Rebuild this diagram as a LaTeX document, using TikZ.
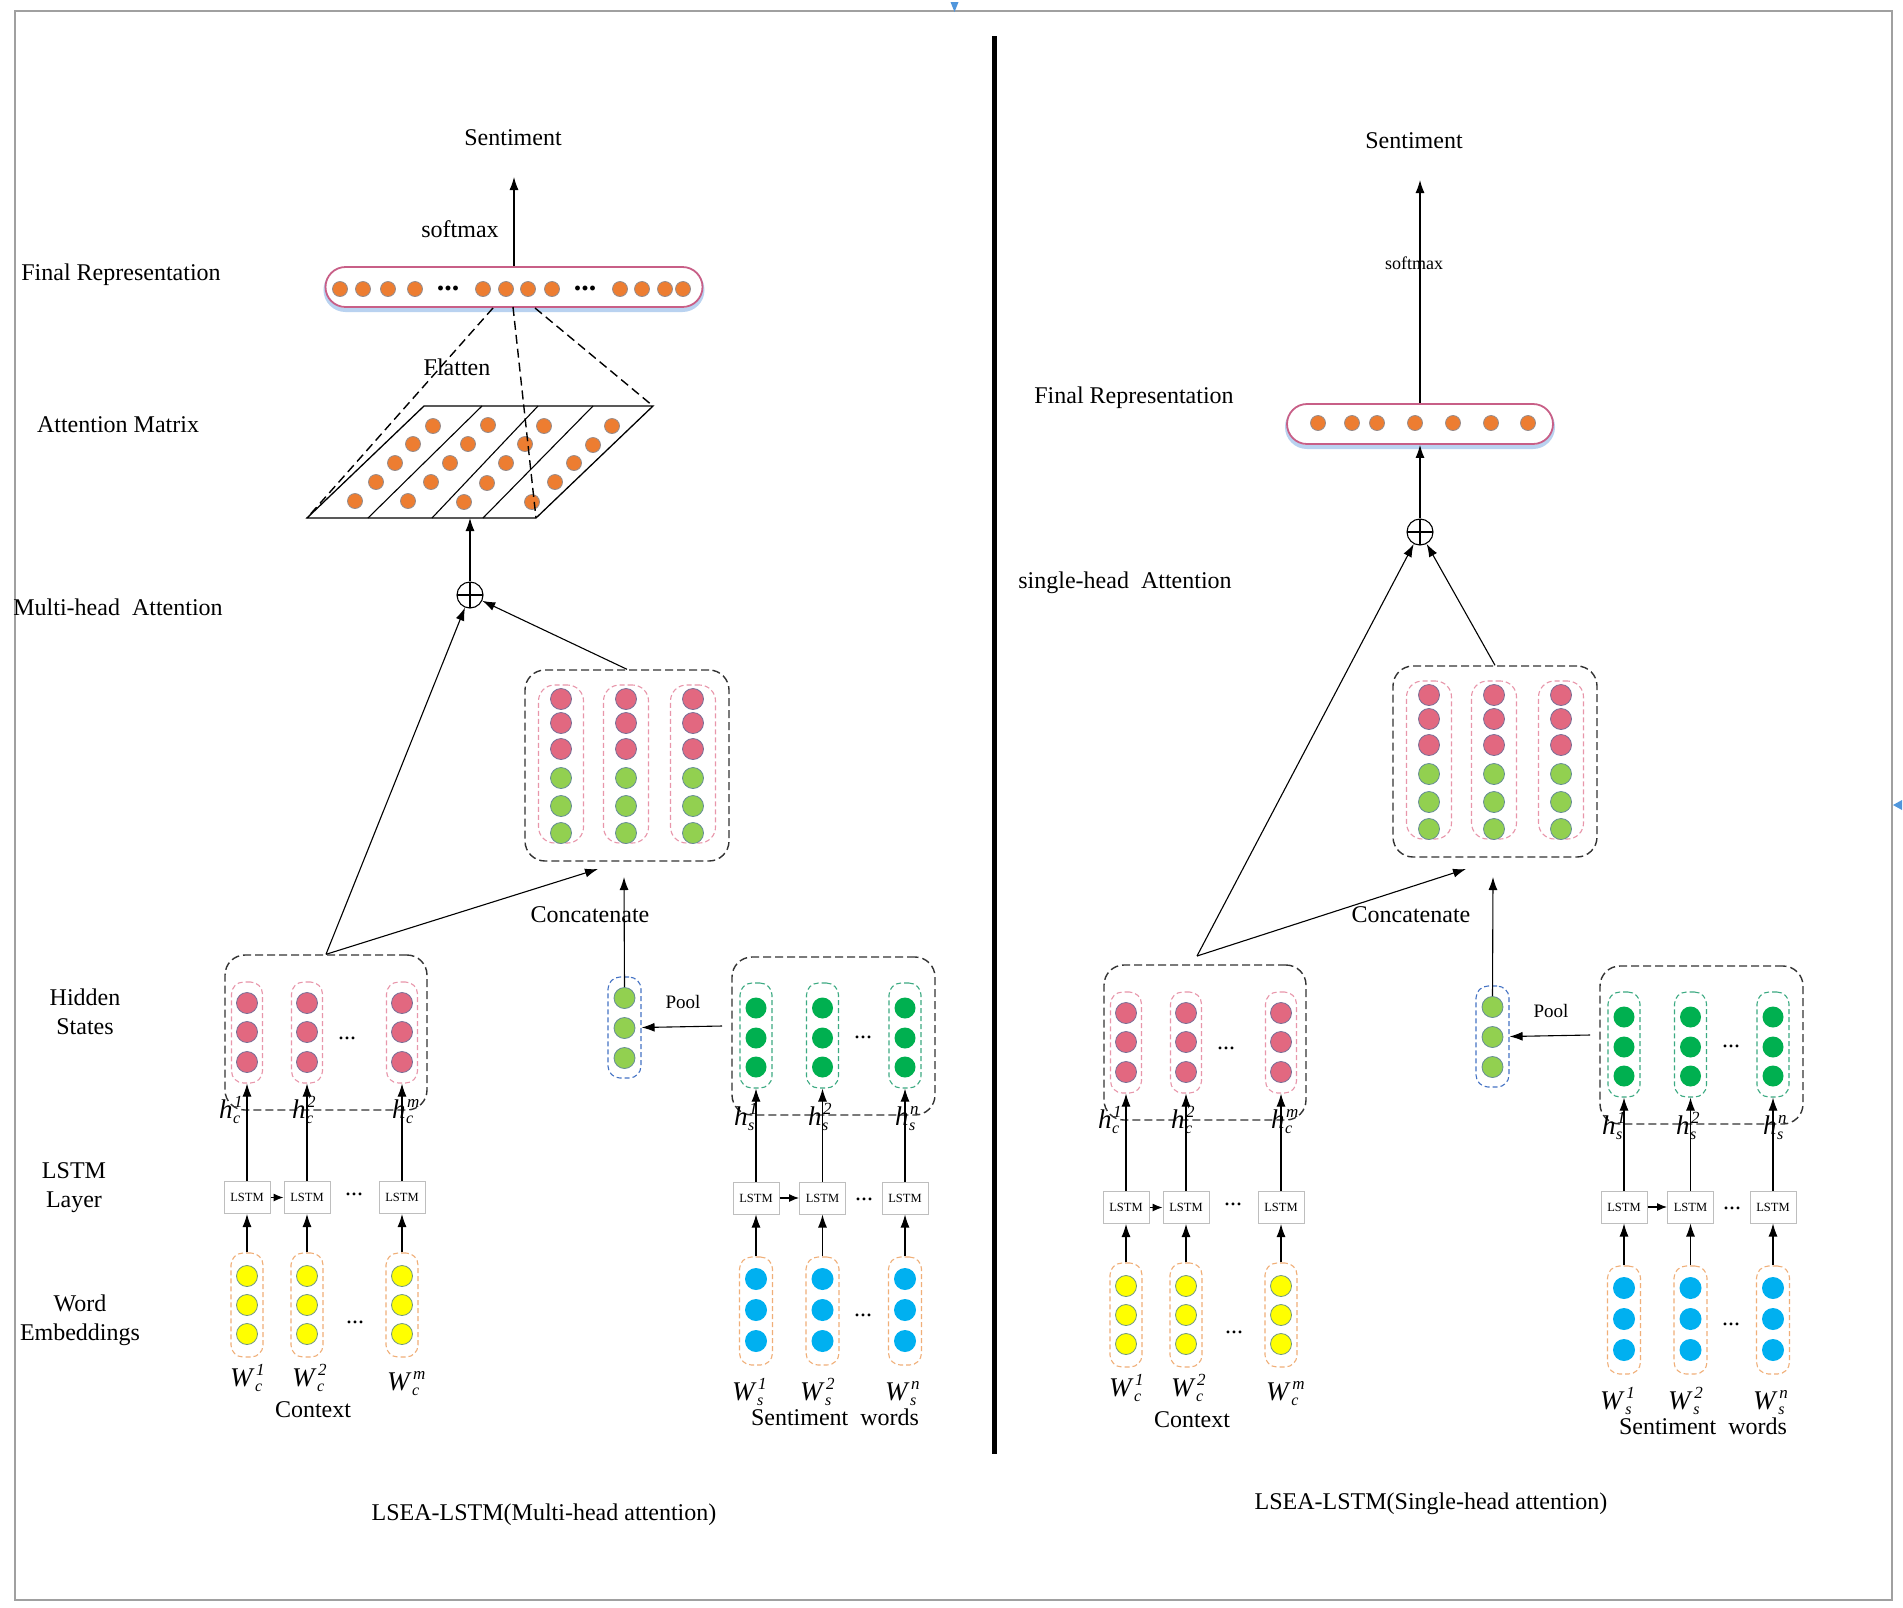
\documentclass[tikz,border=0pt]{standalone}
\usepackage{fontspec}
\setmainfont{Liberation Serif}
\usetikzlibrary{arrows.meta}
\definecolor{pinkdot}{RGB}{226,104,128}
\definecolor{pinkbd}{RGB}{120,110,150}
\definecolor{orgdot}{RGB}{237,125,49}
\definecolor{orgbd}{RGB}{150,140,140}
\definecolor{yeldot}{RGB}{255,255,0}
\definecolor{yelbd}{RGB}{110,150,130}
\definecolor{bluedot}{RGB}{0,176,240}
\definecolor{dgdot}{RGB}{0,176,80}
\definecolor{lgdot}{RGB}{146,208,80}
\definecolor{lgbd}{RGB}{100,140,150}
\definecolor{pinkdash}{RGB}{232,150,170}
\definecolor{orgdash}{RGB}{240,175,120}
\definecolor{grndash}{RGB}{60,170,130}
\definecolor{bludash}{RGB}{68,114,196}
\definecolor{pillbd}{RGB}{200,95,135}
\definecolor{glowc}{RGB}{185,210,240}
\definecolor{framec}{RGB}{160,160,160}
\definecolor{lstmbd}{RGB}{190,190,190}
\definecolor{markc}{RGB}{80,150,220}
\tikzset{
  dotnode/.style={circle, inner sep=0pt, minimum size=#1, line width=0.8pt},
  pdot/.style={dotnode=21, fill=pinkdot, draw=pinkbd},
  odot/.style={dotnode=15, fill=orgdot, draw=orgbd},
  ydot/.style={dotnode=21, fill=yeldot, draw=yelbd},
  bdot/.style={dotnode=22, fill=bluedot},
  gdot/.style={dotnode=21, fill=dgdot},
  lgdot/.style={dotnode=21, fill=lgdot, draw=lgbd},
  colbox/.style={draw=#1, dash pattern=on 5pt off 3pt, rounded corners=12pt, line width=1.1pt, inner sep=0pt},
  outbox/.style={draw=black!80, dash pattern=on 8pt off 4pt, rounded corners=20pt, line width=1.4pt, inner sep=0pt},
  lstmbox/.style={draw=lstmbd, fill=white, minimum width=46pt, minimum height=32pt, inner sep=0pt, line width=1pt, font=\fontsize{12.5}{14}\selectfont},
  lab/.style={font=\fontsize{24}{29}\selectfont, inner sep=0pt},
  hlab/.style={font=\fontsize{27}{30}\selectfont, inner sep=0pt},
  arr/.style={-{Latex[length=13pt,width=9pt]}, line width=1.1pt},
  arrs/.style={-{Latex[length=10pt,width=8pt]}, line width=1.1pt},
  pill/.style={draw=pillbd, fill=white, line width=1.8pt, rounded corners=20pt, inner sep=0pt},
  glow/.style={draw=glowc, line width=4pt, rounded corners=20pt, inner sep=0pt},
  oplus/.style={circle, draw, line width=1.1pt, minimum size=26pt, inner sep=0pt, fill=white,
    path picture={\draw[line width=1.1pt] (path picture bounding box.north) -- (path picture bounding box.south) (path picture bounding box.west) -- (path picture bounding box.east);}},
  mdash/.style={dash pattern=on 9pt off 5pt, line width=1.4pt},
}
\newcommand{\supsub}[3]{\textit{#1}\rlap{\kern0.5pt\raisebox{-5pt}{\fontsize{16}{16}\selectfont\textit{#2}}}\kern1.5pt\raisebox{11pt}{\fontsize{17}{17}\selectfont\textit{#3}}}

% context part (left-panel coordinates)
\newcommand{\ctxblock}[1]{%
  \node[outbox, minimum width=202pt, minimum height=155pt] (#1chb) at (326,1032.5) {};
  \foreach \x [count=\i] in {247,307,402}{%
    \node[colbox=pinkdash, minimum width=31pt, minimum height=101pt] (#1chc\i) at (\x,1032.5) {};
    \foreach \y [count=\j] in {1003,1032,1062} \node[pdot] (#1chc\i d\j) at (\x,\y) {};
    \node[lstmbox] (#1cL\i) at (\x,1197.5) {LSTM};
    \node[colbox=orgdash, minimum width=32pt, minimum height=104pt] (#1cwc\i) at (\x,1305) {};
    \foreach \y [count=\j] in {1276,1305,1334} \node[ydot] (#1cwc\i d\j) at (\x,\y) {};
    \draw[arr] (#1cwc\i.north) -- (#1cL\i.south);
    \draw[arr] (#1cL\i.north) -- (#1chc\i.south);
  }
  \draw[arrs] (#1cL1.east) -- (#1cL2.west);
  \node[lab] (#1chdots) at (347,1038) {...};
  \node[lab] (#1cldots) at (354,1194) {...};
  \node[lab] (#1cwdots) at (355,1322) {...};
  \node[hlab, anchor=base west] (#1ch1) at (219,1118) {\supsub{h}{c}{1}};
  \node[hlab, anchor=base west] (#1ch2) at (292,1118) {\supsub{h}{c}{2}};
  \node[hlab, anchor=base west] (#1ch3) at (392,1118) {\supsub{h}{c}{m}};
  \node[hlab, anchor=base west] (#1cw1) at (230,1386) {\supsub{W}{c}{1}};
  \node[hlab, anchor=base west] (#1cw2) at (292,1386) {\supsub{W}{c}{2}};
  \node[hlab, anchor=base west] (#1cw3) at (387,1390) {\supsub{W}{c}{m}};
  \node[lab] (#1ctx) at (313,1410) {Context};
}
% sentiment-word part (left-panel coordinates)
\newcommand{\sntblock}[1]{%
  \node[outbox, minimum width=203pt, minimum height=158pt] (#1shb) at (833.5,1036) {};
  \foreach \x [count=\i] in {756,822.5,905}{%
    \node[colbox=grndash, minimum width=32pt, minimum height=105pt] (#1shc\i) at (\x,1035.5) {};
    \foreach \y [count=\j] in {1008,1038,1067} \node[gdot] (#1shc\i d\j) at (\x,\y) {};
    \node[lstmbox] (#1sL\i) at (\x,1198) {LSTM};
    \node[colbox=orgdash, minimum width=33pt, minimum height=108pt] (#1swc\i) at (\x,1311) {};
    \foreach \y [count=\j] in {1279,1310,1341} \node[bdot] (#1swc\i d\j) at (\x,\y) {};
    \draw[arr] (#1swc\i.north) -- (#1sL\i.south);
    \draw[arr] (#1sL\i.north) -- (#1shc\i.south);
  }
  \draw[arrs] (#1sL1.east) -- (#1sL2.west);
  \node[lab] (#1shdots) at (863,1037) {...};
  \node[lab] (#1sldots) at (864,1199) {...};
  \node[lab] (#1swdots) at (863,1315) {...};
  \node[colbox=bludash, minimum width=33pt, minimum height=101pt] (#1pc) at (624.5,1027.5) {};
  \foreach \y [count=\j] in {998,1028,1058} \node[lgdot] (#1pcd\j) at (624.5,\y) {};
  \node[font=\fontsize{19}{20}\selectfont, inner sep=0pt] (#1pool) at (683,1002) {Pool};
  \coordinate (#1psrc) at (722,1026);
  \draw[arr] (#1psrc) -- (#1pc.east);
  \node[hlab, anchor=base west] (#1sh1) at (734,1125) {\supsub{h}{s}{1}};
  \node[hlab, anchor=base west] (#1sh2) at (808,1125) {\supsub{h}{s}{2}};
  \node[hlab, anchor=base west] (#1sh3) at (895,1125) {\supsub{h}{s}{n}};
  \node[hlab, anchor=base west] (#1sw1) at (732,1400) {\supsub{W}{s}{1}};
  \node[hlab, anchor=base west] (#1sw2) at (800,1400) {\supsub{W}{s}{2}};
  \node[hlab, anchor=base west] (#1sw3) at (885,1400) {\supsub{W}{s}{n}};
  \node[lab] (#1swords) at (835,1417) {Sentiment\ \ words};
}
% concatenation part (left-panel coordinates)
\newcommand{\catblock}[1]{%
  \node[outbox, minimum width=204pt, minimum height=191pt] (#1cb) at (627,765.5) {};
  \foreach \x [count=\i] in {561,626,693}{%
    \node[colbox=pinkdash, rounded corners=16pt, minimum width=45pt, minimum height=158pt] (#1cc\i) at (\x,764) {};
    \foreach \y [count=\j] in {699,723,749} \node[pdot] (#1cc\i p\j) at (\x,\y) {};
    \foreach \y [count=\j] in {778,806,833} \node[lgdot] (#1cc\i g\j) at (\x,\y) {};
  }
}

\begin{document}
\begin{tikzpicture}[x=1pt,y=-1pt]
\useasboundingbox (0,0) rectangle (1903,1607);
\fill[white] (0,0) rectangle (1903,1607);
% frame and divider
\draw[framec, line width=2pt] (14.6,11) rectangle (1892,1600);
\fill[markc] (950.5,2) -- (958.5,2) -- (954.5,12) -- cycle;
\fill[markc] (1902,800) -- (1902,810) -- (1893,805) -- cycle;
\draw[line width=5pt] (994,36) -- (994,1454);

% ================= LEFT PANEL =================
\node[lab] (sent1) at (513,138) {Sentiment};
\node[lab] (smax1) at (460,229) {softmax};
\node[lab] (frl1) at (121,275) {Final Representation};
\node[lab] (aml1) at (118,425) {Attention Matrix};
\node[lab] (mha1) at (118,607) {Multi-head\ \ Attention};
\node[lab, align=center] (hsl1) at (85,1012) {Hidden\\States};
\node[lab, align=center] (lsl1) at (74,1188) {LSTM\\Layer};
\node[lab, align=center] (wel1) at (80,1320) {Word\\Embeddings};
\node[lab] (cap1) at (544,1515) {LSEA-LSTM(Multi-head attention)};

% final representation
\node[glow, minimum width=377pt, minimum height=40pt] (fr1g) at (514,290) {};
\node[pill, minimum width=377pt, minimum height=40pt] (fr1) at (514,287) {};
\foreach \x [count=\i] in {340,363,388,415,483,506,528,552,620,642,665,683}
  \node[odot] (fr1d\i) at (\x,289) {};
\node[font=\fontsize{30}{30}\selectfont\bfseries, inner sep=0pt] (fr1e1) at (448,288) {...};
\node[font=\fontsize{30}{30}\selectfont\bfseries, inner sep=0pt] (fr1e2) at (585,288) {...};
\coordinate (s1tip) at (514,177);
\draw[arr] (fr1.north) -- (s1tip);

% attention matrix
\coordinate (pmBL) at (307,518);
\coordinate (pmBR) at (536,518);
\coordinate (pmTR) at (653,406);
\coordinate (pmTL) at (424,406);
\draw[line width=1.3pt] (pmBL) -- (pmBR) -- (pmTR) -- (pmTL) -- cycle;
\draw[line width=1.1pt] (368,518) -- (482,406) (432,518) -- (538,406) (483,518) -- (593,406);
\foreach \x/\y [count=\i] in {355/501,376/482,395/463,413/444,433/426,
  408/501,431/482,450/463,468/444,488/425,
  464/502,487/483,506/463,525/444,544/426,
  532/502,555/482,574/463,593/445,612/426}
  \node[odot] (am\i) at (\x,\y) {};
\coordinate (fl1) at (493,308);
\coordinate (fl2) at (513,307);
\coordinate (fl3) at (535,308);
\draw[mdash] (fl1) -- (pmBL);
\draw[mdash] (fl2) -- (pmBR);
\draw[mdash] (fl3) -- (pmTR);
\node[lab] (flat1) at (457,367) {Flatten};

% oplus
\node[oplus] (op1) at (470,595) {};
\coordinate (pmB) at (470,518);
\draw[arr] (op1.north) -- (pmB);

\catblock{L}
\ctxblock{L}
\sntblock{L}
\node[lab] (cat1) at (590,915) {Concatenate};
\coordinate (cc1tip) at (598,869);
\coordinate (pl1tip) at (624,877);
\draw[arr] (Lchb.north) -- (op1);
\draw[arr] (Lcb.north) -- (op1);
\draw[arr] (Lchb.north) -- (cc1tip);
\draw[arr] (Lpcd1.north) -- (pl1tip);

% ================= RIGHT PANEL =================
\node[lab] (sent2) at (1414,141) {Sentiment};
\node[lab] (frl2) at (1134,398) {Final Representation};
\node[lab] (sha2) at (1125,583) {single-head\ \ Attention};
\node[lab] (cap2) at (1431,1504) {LSEA-LSTM(Single-head attention)};

\node[glow, minimum width=266pt, minimum height=40pt] (fr2g) at (1420,427) {};
\node[pill, minimum width=266pt, minimum height=40pt] (fr2) at (1420,424) {};
\foreach \x [count=\i] in {1318,1352,1377,1415,1453,1491,1528}
  \node[odot] (fr2d\i) at (\x,423) {};
\coordinate (s2tip) at (1420,180);
\draw[arr] (fr2.north) -- (s2tip);
\node[font=\fontsize{18}{20}\selectfont, inner sep=0pt] (smax2) at (1414,263) {softmax};

\node[oplus] (op2) at (1420,532) {};
\draw[arr] (op2.north) -- (fr2.south);

\begin{scope}[shift={(868,-4)}]
\catblock{R}
\end{scope}
\begin{scope}[shift={(879,10)}]
\ctxblock{R}
\end{scope}
\begin{scope}[shift={(868,9)}]
\sntblock{R}
\end{scope}
\node[lab] (cat2) at (1411,915) {Concatenate};
\coordinate (cc2tip) at (1466,869);
\coordinate (pl2tip) at (1493,877);
\coordinate (rapex) at (1197,956);
\draw[arr] (rapex) -- (op2);
\draw[arr] (Rcb.north) -- (op2);
\draw[arr] (rapex) -- (cc2tip);
\draw[arr] (Rpcd1.north) -- (pl2tip);
\end{tikzpicture}
\end{document}
